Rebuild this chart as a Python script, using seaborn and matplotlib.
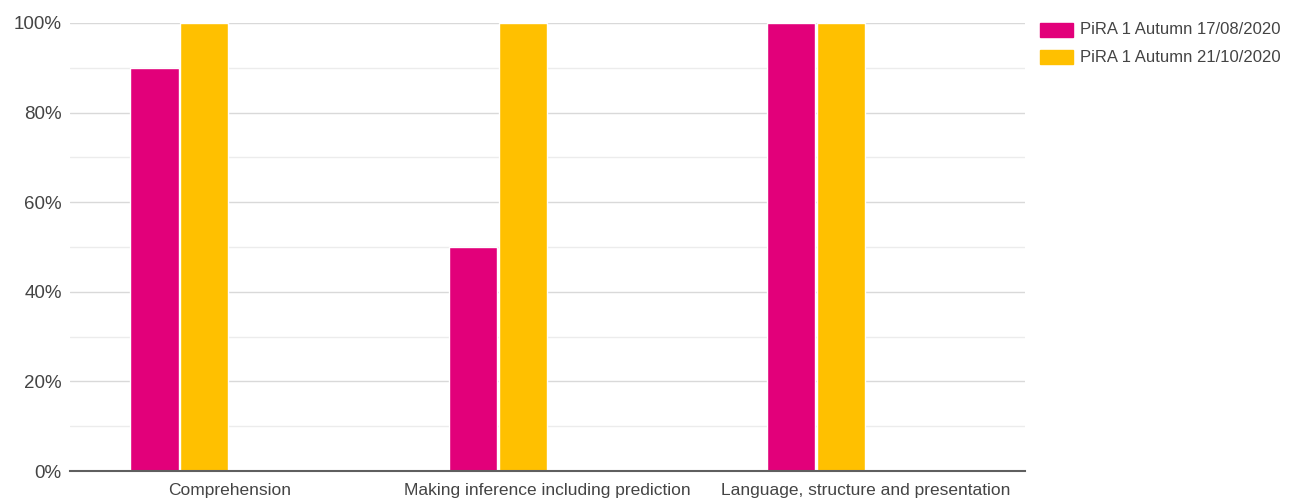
import numpy as np
import pandas as pd
import matplotlib
matplotlib.use('Agg')
import matplotlib.pyplot as plt
import seaborn as sns
from matplotlib.ticker import MultipleLocator, PercentFormatter

categories = ['Comprehension', 'Making inference including prediction', 'Language, structure and presentation']
series = ['PiRA 1 Autumn 17/08/2020', 'PiRA 1 Autumn 21/10/2020']
aug_values = [90, 50, 100]
oct_values = [100, 100, 100]
# google sheets leaves room for two more (empty) series per group
empty_series = ['_empty1', '_empty2']

colors = ['#E2007A', '#FFC000', '#ffffff', '#ffffff']

rows = []
for c, a, o in zip(categories, aug_values, oct_values):
    rows.append((c, series[0], a))
    rows.append((c, series[1], o))
    for e in empty_series:
        rows.append((c, e, np.nan))
df = pd.DataFrame(rows, columns=['category', 'series', 'value'])

sns.set_style('white')
plt.rcParams['font.family'] = ['Liberation Sans', 'DejaVu Sans']

fig = plt.figure(figsize=(12.95, 5.01), dpi=100)
ax = fig.add_axes([70/1295, 1-471/501, (1025-70)/1295, (471-23)/501])

sns.barplot(data=df, x='category', y='value', hue='series',
            hue_order=series + empty_series, order=categories,
            palette=colors, saturation=1, width=0.625, gap=0.03,
            ax=ax, legend=False)

ax.set_ylim(0, 100)
ax.set_xlim(-0.5, 2.5)
ax.yaxis.set_major_locator(MultipleLocator(20))
ax.yaxis.set_minor_locator(MultipleLocator(10))
ax.yaxis.set_major_formatter(PercentFormatter(decimals=0))
ax.grid(axis='y', which='major', color='#d9d9d9', lw=1)
ax.grid(axis='y', which='minor', color='#ececec', lw=1)
ax.set_axisbelow(True)
for s in ['top', 'right', 'left']:
    ax.spines[s].set_visible(False)
ax.spines['bottom'].set_color('#5f5f5f')
ax.spines['bottom'].set_linewidth(1.5)
ax.tick_params(axis='both', which='both', length=0, colors='#444444')
ax.tick_params(axis='y', pad=6, labelsize=13.5)
ax.tick_params(axis='x', pad=9, labelsize=12.5)
ax.set_xlabel('')
ax.set_ylabel('')

# legend in the right margin
for i, (name, col) in enumerate(zip(series, colors)):
    y = 1 - (30 + 27*i)/501
    fig.patches.append(plt.Rectangle((1040/1295, y - 7/501), 33/1295, 14/501,
                                     transform=fig.transFigure, color=col))
    fig.text(1080/1295, y, name, fontsize=12, color='#444444', va='center')

fig.savefig('out.png', dpi=100)
